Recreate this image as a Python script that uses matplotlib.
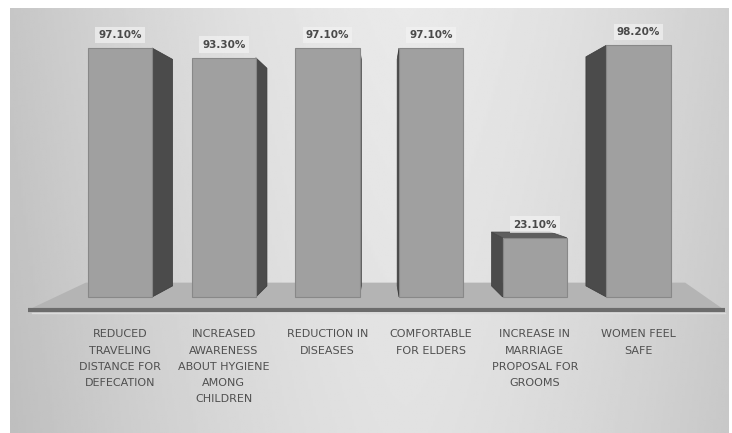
import numpy as np
import matplotlib.pyplot as plt
from matplotlib.patches import Polygon

# survey results (percent of respondents)
categories = [
    "REDUCED\nTRAVELING\nDISTANCE FOR\nDEFECATION",
    "INCREASED\nAWARENESS\nABOUT HYGIENE\nAMONG\nCHILDREN",
    "REDUCTION IN\nDISEASES",
    "COMFORTABLE\nFOR ELDERS",
    "INCREASE IN\nMARRIAGE\nPROPOSAL FOR\nGROOMS",
    "WOMEN FEEL\nSAFE",
]
values = [97.10, 93.30, 97.10, 97.10, 23.10, 98.20]
value_labels = ["97.10%", "93.30%", "97.10%", "97.10%", "23.10%", "98.20%"]

W, H = 732, 433
fig = plt.figure(figsize=(W / 100, H / 100), dpi=100)
fig.patch.set_facecolor("white")

# gray panel with soft horizontal gradient
px0, px1, py0, py1 = 10, 729, 8, 433
bg = fig.add_axes([px0 / W, 1 - py1 / H, (px1 - px0) / W, (py1 - py0) / H])
xs = np.linspace(-1, 1, 300)
row = 0.915 - 0.12 * np.abs(xs - 0.1) ** 1.5
yy = np.linspace(0, 1, 200)[:, None]
grad = row[None, :] - 0.03 * yy
bg.imshow(grad, cmap="gray", vmin=0, vmax=1, aspect="auto", extent=[0, 1, 0, 1])
bg.set_axis_off()

# data axes over the same panel: 0 % sits at y=297 px, bar pitch 103.7 px
ax = fig.add_axes(bg.get_position(), facecolor="none")
x = np.arange(len(values))
xmin, xmax = (px0 - 120) / 103.7, (px1 - 120) / 103.7
ymin, ymax = -(py1 - 297) / 2.564, (297 - py0) / 2.564
ax.set_xlim(xmin, xmax)
ax.set_ylim(ymin, ymax)
ax.set_axis_off()

# perspective: back faces shrink toward a vanishing point
vp = np.array([2.5, 48.0])
t = 0.09
width = 0.62


def back(px, py):
    return px + t * (vp[0] - px), py + t * (vp[1] - py)


# floor strip and its front edge
ff, fb = -5.1, 5.6
floor = Polygon([(-0.89, ff), (5.83, ff), (5.45, fb), (-0.33, fb)],
                closed=True, facecolor="#b4b4b4", edgecolor="none", zorder=1)
ax.add_patch(floor)
ax.plot([-0.89, 5.83], [ff, ff], color="#6c6c6c", lw=3, zorder=2,
        solid_capstyle="butt")
ax.plot([-0.85, 5.83], [ff - 1.2, ff - 1.2], color="#dcdcdc", lw=1, zorder=2)

for xi, v in zip(x, values):
    l, r = xi - width / 2, xi + width / 2
    # side face
    sx = r if xi < vp[0] else l
    bx0, by0 = back(sx, 0)
    bx1, by1 = back(sx, v)
    ax.add_patch(Polygon([(sx, 0), (sx, v), (bx1, by1), (bx0, by0)],
                         facecolor="#4b4b4b", edgecolor="#3a3a3a", lw=0.5, zorder=3))
    # top face when seen from above
    if v < vp[1]:
        tl = back(l, v)
        tr = back(r, v)
        ax.add_patch(Polygon([(l, v), (r, v), tr, tl],
                             facecolor="#5e5e5e", edgecolor="#474747", lw=0.5, zorder=3))

ax.bar(x, values, width=width, color="#a0a0a0", edgecolor="#888888",
       linewidth=0.8, zorder=4)

for xi, v, lab in zip(x, values, value_labels):
    ax.text(xi, v + 3.2, lab, ha="center", va="bottom", fontsize=7.5,
            color="#4a4a4a", fontweight="bold", zorder=5,
            bbox=dict(boxstyle="square,pad=0.3", fc="#f2f2f2", ec="none", alpha=0.7))

for xi, lab in zip(x, categories):
    ax.text(xi, -12.6, lab, ha="center", va="top", fontsize=8,
            color="#505050", linespacing=1.78, zorder=5)

fig.savefig("out.png", dpi=100, facecolor="white")
